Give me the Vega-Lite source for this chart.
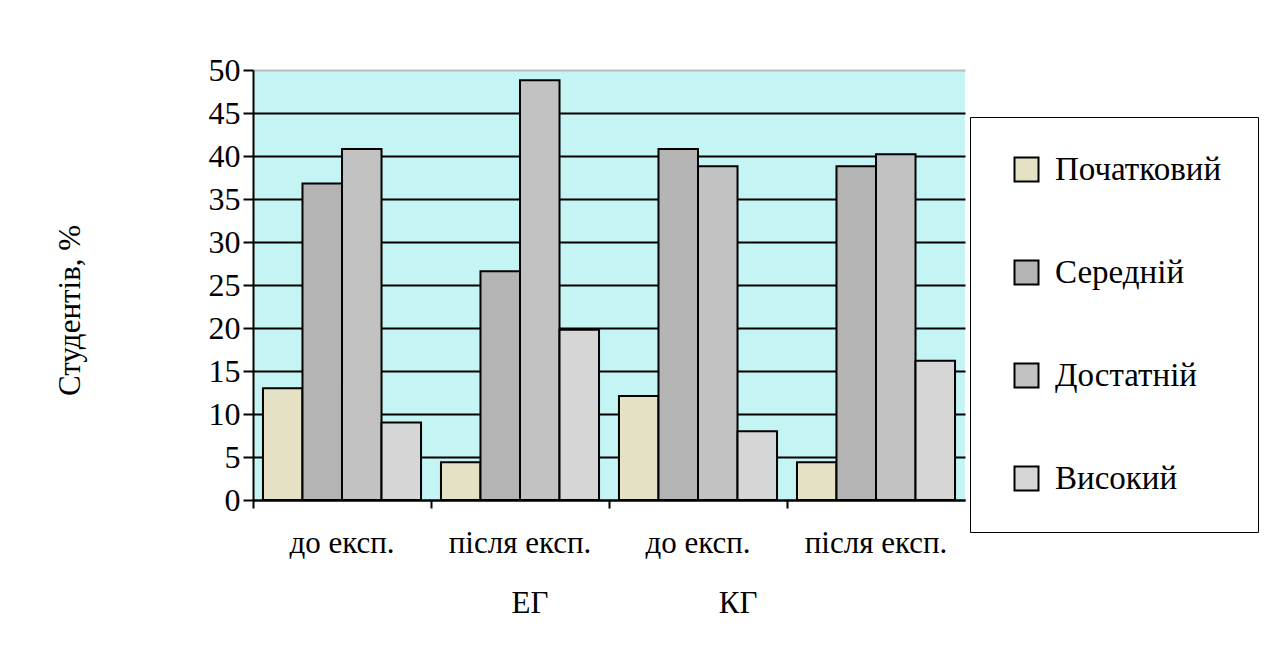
{
  "$schema": "https://vega.github.io/schema/vega-lite/v6.json",
  "width": 712,
  "height": 430,
  "autosize": {"type": "none"},
  "padding": {"left": 253, "top": 70, "right": 309, "bottom": 159},
  "background": "white",
  "config": {
    "view": {"fill": "#c4f4f4", "stroke": null},
    "font": "Liberation Serif, Tinos, DejaVu Serif, serif"
  },
  "data": {
    "values": [
      {"group": "ЕГ до експ.", "level": "Початковий", "value": 13.0},
      {"group": "ЕГ до експ.", "level": "Середній", "value": 36.8},
      {"group": "ЕГ до експ.", "level": "Достатній", "value": 40.8},
      {"group": "ЕГ до експ.", "level": "Високий", "value": 9.0},
      {"group": "ЕГ після експ.", "level": "Початковий", "value": 4.4},
      {"group": "ЕГ після експ.", "level": "Середній", "value": 26.6},
      {"group": "ЕГ після експ.", "level": "Достатній", "value": 48.8},
      {"group": "ЕГ після експ.", "level": "Високий", "value": 19.8},
      {"group": "КГ до експ.", "level": "Початковий", "value": 12.1},
      {"group": "КГ до експ.", "level": "Середній", "value": 40.8},
      {"group": "КГ до експ.", "level": "Достатній", "value": 38.8},
      {"group": "КГ до експ.", "level": "Високий", "value": 8.0},
      {"group": "КГ після експ.", "level": "Початковий", "value": 4.4},
      {"group": "КГ після експ.", "level": "Середній", "value": 38.8},
      {"group": "КГ після експ.", "level": "Достатній", "value": 40.2},
      {"group": "КГ після експ.", "level": "Високий", "value": 16.2}
    ]
  },
  "mark": {"type": "bar", "stroke": "black", "strokeWidth": 2},
  "encoding": {
    "x": {
      "field": "group",
      "type": "nominal",
      "sort": ["ЕГ до експ.", "ЕГ після експ.", "КГ до експ.", "КГ після експ."],
      "scale": {"paddingInner": 0.112, "paddingOuter": 0.056},
      "axis": {
        "labelExpr": "slice(datum.label, 3)",
        "labelFont": "Liberation Serif, Tinos, DejaVu Serif, serif",
        "labelAngle": 0,
        "labelFontSize": 31,
        "labelColor": "black",
        "labelPadding": 20,
        "domainColor": "black",
        "domainWidth": 2,
        "tickColor": "black",
        "tickWidth": 2,
        "tickSize": 8,
        "bandPosition": -0.063,
        "grid": false,
        "title": "ЕГ\u00a0\u00a0\u00a0\u00a0\u00a0\u00a0\u00a0\u00a0\u00a0\u00a0\u00a0\u00a0\u00a0\u00a0\u00a0\u00a0\u00a0\u00a0\u00a0\u00a0\u00a0\u00a0КГ",
        "titleFont": "Liberation Serif, Tinos, DejaVu Serif, serif",
        "titleFontSize": 31,
        "titleFontWeight": "normal",
        "titleColor": "black",
        "titleX": 381,
        "titleY": 88,
        "titleAlign": "center",
        "titleBaseline": "top"
      }
    },
    "xOffset": {
      "field": "level",
      "type": "nominal",
      "sort": ["Початковий", "Середній", "Достатній", "Високий"],
      "scale": {"paddingInner": 0, "paddingOuter": 0}
    },
    "y": {
      "field": "value",
      "type": "quantitative",
      "scale": {"domain": [0, 50], "nice": false},
      "axis": {
        "values": [0, 5, 10, 15, 20, 25, 30, 35, 40, 45, 50],
        "title": "Студентів, %",
        "titleFont": "Liberation Serif, Tinos, DejaVu Serif, serif",
        "titleFontSize": 31,
        "titleFontWeight": "normal",
        "titleColor": "black",
        "titlePadding": 122,
        "titleY": 240,
        "labelFont": "Liberation Serif, Tinos, DejaVu Serif, serif",
        "labelFontSize": 32,
        "labelColor": "black",
        "labelPadding": 3,
        "domainColor": "black",
        "domainWidth": 2,
        "tickColor": "black",
        "tickWidth": 2,
        "tickSize": 10,
        "grid": true,
        "gridColor": {"condition": {"test": "datum.value === 50", "value": "#bbbbbb"}, "value": "black"},
        "gridWidth": 2
      }
    },
    "color": {
      "field": "level",
      "type": "nominal",
      "sort": ["Початковий", "Середній", "Достатній", "Високий"],
      "scale": {"range": ["#e4e1c4", "#b4b4b4", "#c2c2c2", "#d6d6d6"]},
      "legend": {
        "orient": "none",
        "legendX": 717,
        "legendY": 47,
        "title": null,
        "strokeColor": "black",
        "fillColor": "white",
        "padding": 36,
        "symbolOffset": 4,
        "labelFont": "Liberation Serif, Tinos, DejaVu Serif, serif",
        "labelFontSize": 33,
        "labelLimit": 400,
        "labelColor": "black",
        "labelOffset": 12,
        "symbolType": "square",
        "symbolSize": 576,
        "symbolStrokeColor": "black",
        "symbolStrokeWidth": 2,
        "rowPadding": 69
      }
    }
  }
}
